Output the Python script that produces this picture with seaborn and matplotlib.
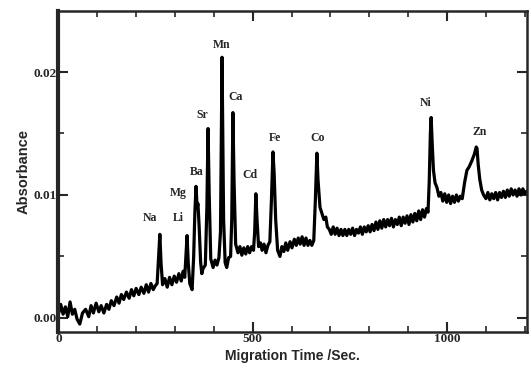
import matplotlib
matplotlib.use("Agg")
import matplotlib.pyplot as plt
from matplotlib.ticker import MultipleLocator
import pandas as pd
import seaborn as sns

# Migration time (s) and absorbance
time_s = [
    0, 6, 12, 18, 24, 30, 36, 42, 48, 55,
    62, 70, 78, 84, 90, 97, 104, 110, 117, 124,
    130, 136, 143, 150, 156, 162, 168, 175, 182, 188,
    194, 200, 207, 213, 220, 226, 232, 238, 244, 249,
    254, 258, 261, 264, 268, 274, 280, 286, 292, 298,
    304, 310, 316, 321, 325, 328, 331, 334, 338, 344,
    348, 351, 354, 357, 359, 362, 366, 369,
    372, 378, 382, 385, 388, 392, 398, 403, 408, 413,
    417, 421, 425, 429, 433, 438, 443, 446, 449, 452,
    456, 462, 467, 472, 477, 482, 487, 492, 497, 502,
    505, 508, 511, 515, 520, 524, 529, 534, 539, 544,
    548, 552, 555, 559, 564, 570, 575, 580, 585, 590,
    596, 601, 607, 612, 617, 622, 627, 632, 637, 642,
    647, 652, 657,
    661, 665, 668, 673, 678, 683, 688, 692, 697, 702,
    707, 712, 717, 722, 727, 732, 737, 742, 747, 752,
    757, 762, 767, 772, 777, 782, 787, 792, 797, 802,
    807, 812, 817, 822, 827, 832, 837, 842, 847, 852,
    857, 862, 867, 872, 877, 882, 887, 892, 897, 902,
    907, 912, 917, 922, 927, 932, 937, 942, 947, 951,
    954, 957, 959, 962, 965, 969, 974, 979, 984, 989,
    994, 999, 1004, 1009, 1014, 1019, 1024, 1029, 1034, 1039,
    1045, 1051, 1057, 1064, 1070, 1075, 1077, 1080, 1084, 1089,
    1094, 1100, 1105, 1110, 1115, 1120, 1125, 1130, 1135, 1140,
    1145, 1150, 1155, 1160, 1165, 1170, 1175, 1180, 1185, 1190,
    1195, 1200, 1205,
]
absorbance = [
    0.0003, 0.0011, 0.0003, 0.0009, 0.0001, 0.0013, 0.0003, 0.0007, -0.0001, -0.0005,
    0.0004, 0.0007, 0.0001, 0.0010, 0.0004, 0.0012, 0.0005, 0.0010, 0.0004, 0.0011,
    0.0007, 0.0014, 0.0010, 0.0017, 0.0012, 0.0019, 0.0015, 0.0021, 0.0016, 0.0023,
    0.0018, 0.0024, 0.0019, 0.0025, 0.0020, 0.0027, 0.0021, 0.0028, 0.0023, 0.0026,
    0.0028, 0.0050, 0.0068, 0.0045, 0.0027, 0.0032, 0.0025, 0.0033, 0.0027, 0.0034,
    0.0029, 0.0036, 0.0030, 0.0038, 0.0033, 0.0050, 0.0067, 0.0045, 0.0028, 0.0023,
    0.0050, 0.0085, 0.0107, 0.0090, 0.0093, 0.0075, 0.0045, 0.0036,
    0.0040, 0.0043, 0.0090, 0.0154, 0.0100, 0.0048, 0.0041, 0.0047, 0.0043, 0.0049,
    0.0070, 0.0212, 0.0080, 0.0045, 0.0041, 0.0049, 0.0050, 0.0080, 0.0167, 0.0110,
    0.0060, 0.0053, 0.0058, 0.0051, 0.0057, 0.0052, 0.0058, 0.0053, 0.0058, 0.0055,
    0.0070, 0.0101, 0.0080, 0.0058, 0.0061, 0.0055, 0.0060, 0.0053, 0.0059, 0.0062,
    0.0095, 0.0135, 0.0118, 0.0080, 0.0055, 0.0050, 0.0058, 0.0054, 0.0061, 0.0055,
    0.0062, 0.0057, 0.0064, 0.0059, 0.0065, 0.0060, 0.0066, 0.0059, 0.0065, 0.0059,
    0.0063, 0.0059, 0.0063,
    0.0095, 0.0134, 0.0112, 0.0090, 0.0085, 0.0080, 0.0082, 0.0074, 0.0072, 0.0068,
    0.0074, 0.0068, 0.0073, 0.0067, 0.0072, 0.0067, 0.0072, 0.0067, 0.0072, 0.0068,
    0.0073, 0.0067, 0.0072, 0.0069, 0.0074, 0.0068, 0.0074, 0.0070, 0.0075, 0.0070,
    0.0076, 0.0071, 0.0078, 0.0072, 0.0079, 0.0073, 0.0080, 0.0074, 0.0080, 0.0075,
    0.0081, 0.0074, 0.0080, 0.0076, 0.0082, 0.0075, 0.0082, 0.0077, 0.0083, 0.0076,
    0.0084, 0.0078, 0.0085, 0.0079, 0.0087, 0.0080, 0.0088, 0.0082, 0.0089, 0.0086,
    0.0110, 0.0150, 0.0163, 0.0140, 0.0120, 0.0110, 0.0106, 0.0099, 0.0102, 0.0095,
    0.0101, 0.0094, 0.0100, 0.0093, 0.0099, 0.0094, 0.0100, 0.0095, 0.0099, 0.0097,
    0.0110, 0.0120, 0.0123, 0.0128, 0.0133, 0.0139, 0.0138, 0.0125, 0.0113, 0.0104,
    0.0100, 0.0097, 0.0102, 0.0096, 0.0101, 0.0097, 0.0102, 0.0096, 0.0102, 0.0098,
    0.0103, 0.0098, 0.0104, 0.0099, 0.0105, 0.0100, 0.0104, 0.0099, 0.0105, 0.0100,
    0.0105, 0.0101, 0.0103,
]

# Peak labels and where they sit
ions = ["Na", "Li", "Mg", "Ba", "Sr", "Mn", "Ca", "Cd", "Fe", "Co", "Ni", "Zn"]
ion_time = [236, 308, 308, 355, 369, 420, 456, 494, 557, 668, 944, 1083]
ion_abs = [0.0081, 0.0081, 0.0102, 0.0119, 0.0165, 0.0222, 0.0180,
           0.0116, 0.0146, 0.0146, 0.0175, 0.0151]

x_ticks = [0, 500, 1000]
y_ticks = [0.0, 0.01, 0.02]
y_tick_labels = ["0.00", "0.01", "0.02"]

assert len(time_s) == len(absorbance)
df = pd.DataFrame({"time": time_s, "absorbance": absorbance})

sns.set_style("ticks")

fig = plt.figure(figsize=(5.31, 3.68), dpi=100)
ax = fig.add_axes([0.110, 0.098, 0.882, 0.872])

sns.lineplot(data=df, x="time", y="absorbance", ax=ax, color="black",
             linewidth=2.3, estimator=None, sort=False)

for name, t, a in zip(ions, ion_time, ion_abs):
    ax.text(t, a, name, ha="center", va="center", fontsize=8.5,
            fontweight="bold", family="Liberation Serif")

ax.set_xlim(0, 1205)
ax.set_ylim(-0.00114, 0.02496)

ax.set_xticks(x_ticks)
ax.set_xticklabels([str(v) for v in x_ticks])
ax.set_yticks(y_ticks)
ax.set_yticklabels(y_tick_labels)
ax.xaxis.set_minor_locator(MultipleLocator(100))
ax.yaxis.set_minor_locator(MultipleLocator(0.005))

ax.tick_params(which="both", direction="in", top=True, right=True)
ax.tick_params(which="major", length=7, width=1.5, pad=1)
ax.tick_params(which="minor", length=4, width=1.2)
for lab in ax.get_xticklabels() + ax.get_yticklabels():
    lab.set_family("Liberation Serif")
    lab.set_fontweight("bold")
    lab.set_fontsize(9.5)

for side in ["top", "right", "bottom"]:
    ax.spines[side].set_linewidth(1.8)
ax.spines["left"].set_linewidth(3)

ax.set_xlabel("Migration Time /Sec.", fontsize=10, fontweight="bold",
              family="Liberation Sans", labelpad=3)
ax.set_ylabel("Absorbance", fontsize=10.5, fontweight="bold",
              family="Liberation Sans", labelpad=2)

fig.savefig("out.png", dpi=100)
